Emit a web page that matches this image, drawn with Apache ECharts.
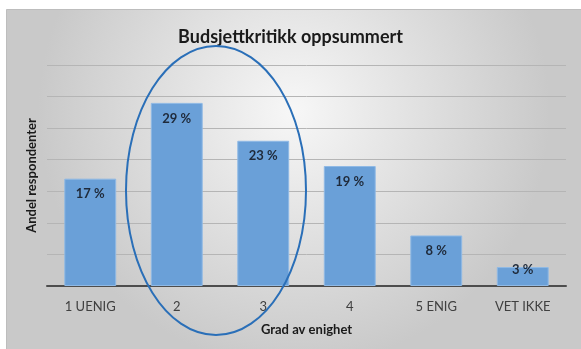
<!DOCTYPE html>
<html><head><meta charset="utf-8">
<script src="https://cdn.jsdelivr.net/npm/echarts@6/dist/echarts.min.js"></script>
<style>html,body{margin:0;padding:0;background:#fff}#c{width:581px;height:349px}</style>
</head><body><div id="c"></div>
<script>
var categories = ['1 UENIG', '2', '3', '4', '5 ENIG', 'VET IKKE'];
var values = [17, 29, 23, 19, 8, 3];
var yTicks = [0, 5, 10, 15, 20, 25, 30, 35];

var chart = echarts.init(document.getElementById('c'), null, {renderer: 'canvas'});
var font = 'Lato, "Open Sans", sans-serif';
var data = values.map(function (v) {
  var item = {value: v};
  if (v < 5) item.label = {position: 'top', distance: -9};
  return item;
});
chart.setOption({
  animation: false,
  graphic: [
    {type: 'rect', left: 6, top: 9, z: -10, shape: {width: 575, height: 340},
     style: {fill: {type: 'radial', x: 0.5, y: 0.3, r: 0.75,
       colorStops: [{offset: 0, color: '#f7f7f7'}, {offset: 1, color: '#c9c9c9'}]},
       stroke: '#bdbdbd', lineWidth: 1}},
    {type: 'ellipse', z: 100, x: 216, y: 190.5,
     shape: {cx: 0, cy: 0, rx: 90, ry: 144.5},
     style: {fill: 'none', stroke: '#2a6fb8', lineWidth: 2}}
  ],
  title: {text: 'Budsjettkritikk oppsummert', left: 'center', top: 23,
    textStyle: {fontFamily: font, fontSize: 18, fontWeight: 'bold', color: '#1a1a1a'}},
  grid: {left: 47, right: 15, top: 65, bottom: 63},
  xAxis: {type: 'category', data: categories,
    name: 'Grad av enighet', nameLocation: 'middle', nameGap: 37,
    nameTextStyle: {fontFamily: font, fontSize: 13, fontWeight: 'bold', color: '#1a1a1a'},
    axisLine: {lineStyle: {color: '#4d4d4d', width: 2}},
    axisTick: {show: false},
    axisLabel: {fontFamily: font, fontSize: 13, color: '#404040', margin: 14}},
  yAxis: {type: 'value', min: yTicks[0], max: yTicks[yTicks.length - 1], interval: 5,
    name: 'Andel respondenter', nameLocation: 'middle', nameGap: 9,
    nameTextStyle: {fontFamily: font, fontSize: 13, fontWeight: 'bold', color: '#1a1a1a'},
    axisLine: {show: false}, axisTick: {show: false}, axisLabel: {show: false},
    splitLine: {lineStyle: {color: '#b5b5b5', width: 1}}},
  series: [{type: 'bar', data: data, barCategoryGap: '40%',
    itemStyle: {color: '#6aa0d8', borderColor: '#8fb9e5', borderWidth: 1},
    label: {show: true, position: 'insideTop', distance: 9,
      formatter: function (p) { return p.value + ' %'; },
      fontFamily: font, fontSize: 13, fontWeight: 'bold', color: '#1f2a3a'}}]
});
</script></body></html>
